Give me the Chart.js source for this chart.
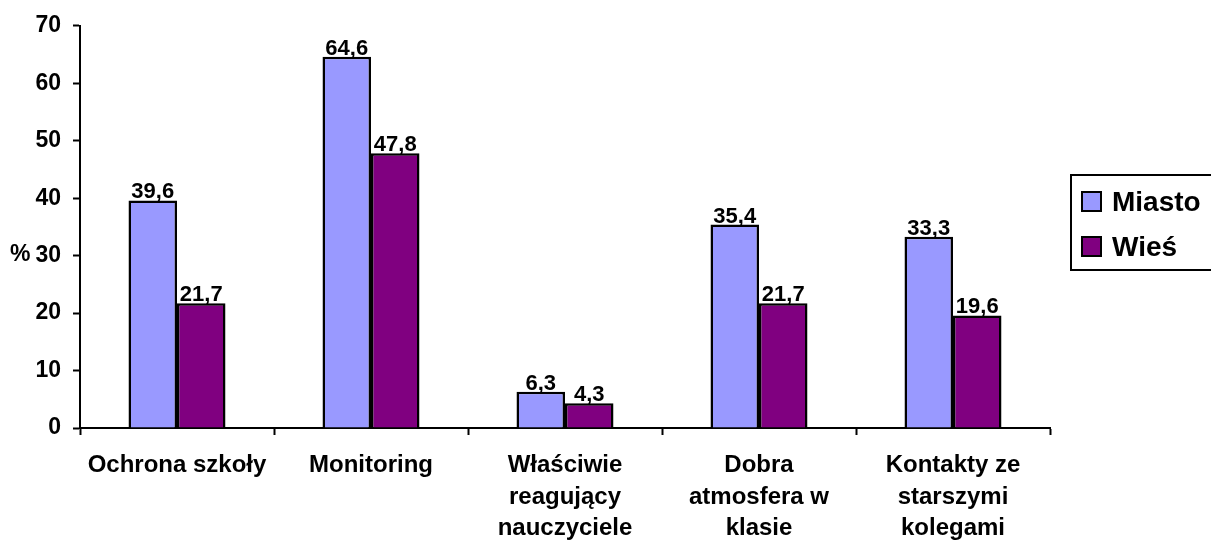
<!DOCTYPE html>
<html>
<head>
<meta charset="utf-8">
<script src="https://cdn.jsdelivr.net/npm/chart.js@4.4.0/dist/chart.umd.min.js"></script>
<style>
  html, body { margin: 0; padding: 0; background: #fff; overflow: hidden; }
  #wrap { width: 1211px; height: 540px; position: relative; }
</style>
</head>
<body>
<div id="wrap"><canvas id="chart"></canvas></div>
<script>
const categories = [
    ["Ochrona szkoły"],
    ["Monitoring"],
    ["Właściwie", "reagujący", "nauczyciele"],
    ["Dobra", "atmosfera w", "klasie"],
    ["Kontakty ze", "starszymi", "kolegami"]
];
const seriesNames = ["Miasto", "Wieś"];
const miasto = [39.6, 64.6, 6.3, 35.4, 33.3];
const wies = [21.7, 47.8, 4.3, 21.7, 19.6];
const yTicks = [0, 10, 20, 30, 40, 50, 60, 70];

const colors = ["#9999FF", "#800080"];
const fontFamily = "'Liberation Sans', Arial, sans-serif";

function fmt(v) {
    return v.toFixed(1).replace(".", ",");
}

// value labels above each bar
const valueLabels = {
    id: "valueLabels",
    afterDatasetsDraw(chart) {
        const ctx = chart.ctx;
        ctx.save();
        ctx.fillStyle = "#000";
        ctx.font = "bold 22px " + fontFamily;
        ctx.textAlign = "center";
        ctx.textBaseline = "alphabetic";
        chart.data.datasets.forEach((ds, i) => {
            const meta = chart.getDatasetMeta(i);
            meta.data.forEach((bar, j) => {
                ctx.fillText(fmt(ds.data[j]), bar.x, bar.y - 2);
            });
        });
        ctx.restore();
    }
};

// "%" axis label and the framed legend on the right
const extras = {
    id: "extras",
    afterDraw(chart) {
        const ctx = chart.ctx;
        const area = chart.chartArea;
        ctx.save();
        ctx.fillStyle = "#000";
        ctx.font = "bold 23px " + fontFamily;
        ctx.textAlign = "left";
        ctx.textBaseline = "middle";
        ctx.fillText("%", 10, (area.top + area.bottom) / 2 + 28);

        const lx = area.right + 21;
        const ly = 175;
        ctx.lineWidth = 2;
        ctx.strokeStyle = "#000";
        ctx.strokeRect(lx, ly, 170, 95);
        ctx.font = "bold 28px " + fontFamily;
        seriesNames.forEach((name, i) => {
            const top = ly + 17 + i * 45;
            ctx.fillStyle = colors[i];
            ctx.fillRect(lx + 11, top, 19, 19);
            ctx.strokeRect(lx + 11, top, 19, 19);
            ctx.fillStyle = "#000";
            ctx.fillText(name, lx + 41, top + 11);
        });
        ctx.restore();
    }
};

new Chart(document.getElementById("chart"), {
    type: "bar",
    data: {
        labels: categories,
        datasets: [
            {
                label: seriesNames[0],
                data: miasto,
                backgroundColor: colors[0],
                borderColor: "#000",
                borderWidth: 2.5,
                categoryPercentage: 0.5,
                barPercentage: 1
            },
            {
                label: seriesNames[1],
                data: wies,
                backgroundColor: colors[1],
                borderColor: "#000",
                borderWidth: 2.5,
                categoryPercentage: 0.5,
                barPercentage: 1
            }
        ]
    },
    options: {
        responsive: true,
        maintainAspectRatio: false,
        animation: false,
        layout: {
            padding: { top: 24, right: 161, left: 0, bottom: 0 }
        },
        plugins: {
            legend: { display: false },
            tooltip: { enabled: false }
        },
        scales: {
            x: {
                grid: {
                    offset: true,
                    drawOnChartArea: false,
                    drawTicks: true,
                    tickLength: 7,
                    tickWidth: 2,
                    color: "#000"
                },
                border: { display: true, color: "#000", width: 2 },
                ticks: {
                    color: "#000",
                    padding: 14,
                    maxRotation: 0,
                    autoSkip: false,
                    font: { family: fontFamily, size: 24, weight: "bold", lineHeight: 1.33 }
                },
                afterFit(scale) { scale.height = 112; }
            },
            y: {
                min: 0,
                max: 70,
                afterBuildTicks(scale) {
                    scale.ticks = yTicks.map(v => ({ value: v }));
                },
                grid: {
                    drawOnChartArea: false,
                    drawTicks: true,
                    tickLength: 7,
                    tickWidth: 2,
                    color: "#000"
                },
                border: { display: true, color: "#000", width: 2 },
                ticks: {
                    color: "#000",
                    padding: 12,
                    font: { family: fontFamily, size: 23, weight: "bold" }
                },
                afterFit(scale) { scale.width = 80; }
            }
        }
    },
    plugins: [valueLabels, extras]
});
</script>
</body>
</html>
